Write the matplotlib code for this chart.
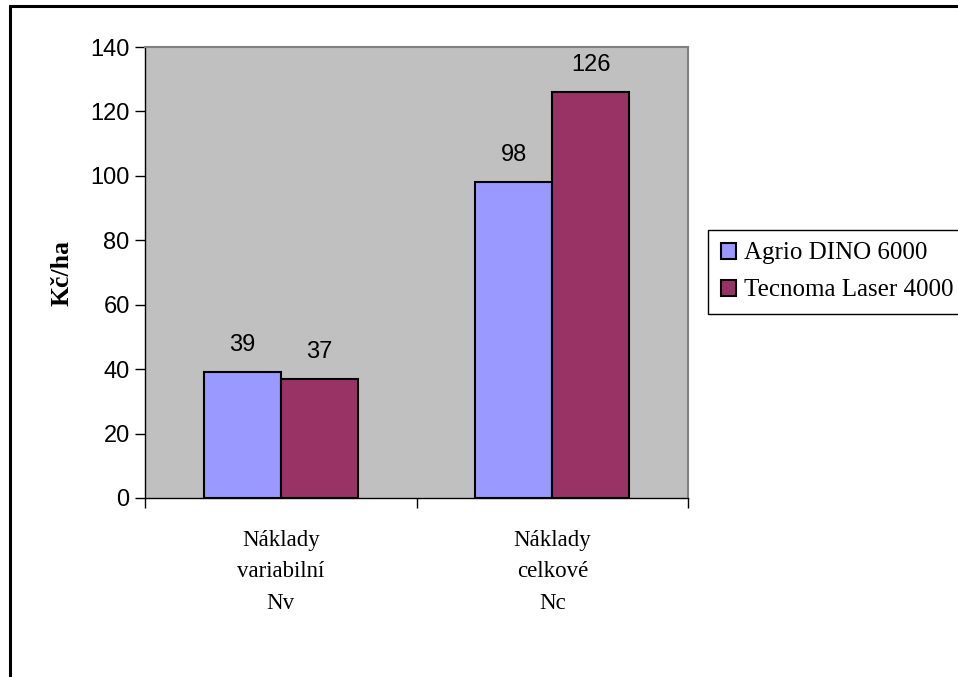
import matplotlib.pyplot as plt
from matplotlib.patches import Rectangle
import numpy as np

# Data
categories = ['Náklady\nvariabilní\nNv', 'Náklady\ncelkové\nNc']
series_names = ['Agrio DINO 6000', 'Tecnoma Laser 4000']
agrio = [39, 98]
tecnoma = [37, 126]
colors = ['#9999FF', '#993366']

fig = plt.figure(figsize=(9.58, 6.77), dpi=100)
ax = fig.add_axes([145 / 958, 1 - 498 / 677, 543 / 958, 451 / 677])
ax.set_facecolor('#C0C0C0')

x = np.arange(len(categories))
bw = 0.284
bars = []
for vals, off, col, name in zip([agrio, tecnoma], [-bw / 2, bw / 2], colors, series_names):
    b = ax.bar(x + off, vals, bw, color=col, edgecolor='black', linewidth=1.5, label=name, zorder=3)
    bars.append(b)
    for xi, v in zip(x + off, vals):
        ax.annotate(str(v), (xi, v), xytext=(0, 19.5), textcoords='offset points',
                    ha='center', va='center', fontsize=17, family='Liberation Sans')

ax.set_xlim(-0.5, 1.5)
ax.set_ylim(0, 140)
ax.set_yticks(np.arange(0, 141, 20))
ax.set_yticklabels([str(v) for v in range(0, 141, 20)], fontsize=17, family='Liberation Sans')
ax.tick_params(axis='y', direction='out', length=7, width=1, pad=4)

# category boundaries as major ticks, labels on minor ticks
ax.set_xticks([-0.5, 0.5, 1.5])
ax.set_xticklabels([])
ax.tick_params(axis='x', which='major', direction='out', length=7, width=1)
ax.set_xticks(x, minor=True)
ax.set_xticklabels(categories, minor=True, fontsize=16.5, family='Liberation Serif', linespacing=1.65)
ax.tick_params(axis='x', which='minor', length=0, pad=23)

ax.set_ylabel('Kč/ha', fontsize=18.5, family='Liberation Serif', fontweight='bold', labelpad=12)

for side in ['top', 'right']:
    ax.spines[side].set_color('#808080')
    ax.spines[side].set_linewidth(1.5)
for side in ['left', 'bottom']:
    ax.spines[side].set_color('black')
    ax.spines[side].set_linewidth(1)

leg = fig.legend(handles=bars, labels=series_names, loc='upper left',
                 bbox_to_anchor=(708 / 958, 1 - 230 / 677), fancybox=False,
                 edgecolor='black', framealpha=1, prop={'family': 'Liberation Serif', 'size': 18},
                 handlelength=0.62, handleheight=0.62, handletextpad=0.3, borderpad=0.5,
                 labelspacing=0.6, borderaxespad=0)
leg.get_frame().set_linewidth(1)

# outer chart frame (cut off on right and bottom)
fig.patches.append(Rectangle((10 / 958, -0.1), 1.2, 0.1 + 1 - 6 / 677, transform=fig.transFigure,
                             fill=False, edgecolor='black', linewidth=2.2))

fig.savefig('out.png', dpi=100)
